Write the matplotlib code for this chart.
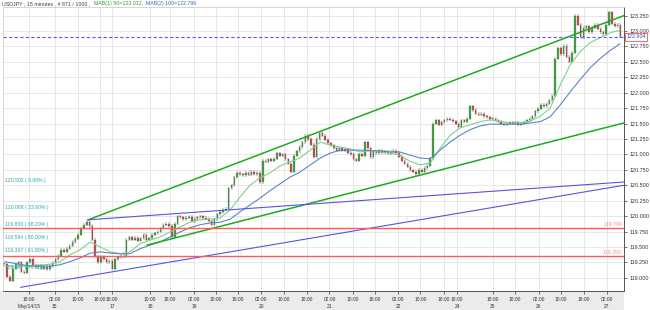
import matplotlib
matplotlib.use("Agg")
import matplotlib.pyplot as plt
from matplotlib.patches import Rectangle
import numpy as np

# hourly closes (one value per 4 bars)
closes = [
    119.22, 119.02, 118.95, 119.15, 119.22, 119.25, 119.10, 119.08, 119.25, 119.30,
    119.20, 119.17, 119.20, 119.15, 119.18, 119.14, 119.19, 119.24, 119.30, 119.36,
    119.45, 119.42, 119.47, 119.52, 119.58, 119.63, 119.70, 119.80, 119.86, 119.91,
    119.84, 119.62, 119.35, 119.25, 119.34, 119.30, 119.25, 119.28, 119.15, 119.30,
    119.33, 119.36, 119.34, 119.62, 119.66, 119.62, 119.65, 119.60, 119.64, 119.70,
    119.62, 119.64, 119.70, 119.72, 119.75, 119.80, 119.86, 119.88, 119.84, 119.66,
    119.88, 120.00, 119.98, 119.95, 119.97, 119.99, 119.92, 119.96, 119.98, 120.00,
    119.97, 119.96, 119.92, 119.86, 119.95, 120.03, 120.06, 120.10, 120.12, 120.45,
    120.50, 120.63, 120.70, 120.68, 120.66, 120.70, 120.67, 120.72, 120.68, 120.70,
    120.55, 120.90, 120.88, 120.92, 120.90, 120.93, 121.02, 120.98, 121.00, 120.92,
    120.85, 120.72, 120.98, 121.05, 121.12, 121.20, 121.30, 121.25, 121.16, 120.95,
    121.25, 121.35, 121.30, 121.24, 121.18, 121.15, 121.10, 121.06, 121.10, 121.06,
    121.08, 121.03, 121.00, 120.92, 120.90, 121.00, 120.98, 121.20, 121.10, 120.95,
    121.05, 121.02, 121.06, 121.03, 121.05, 121.02, 121.04, 121.06, 121.03, 120.96,
    120.90, 120.85, 120.80, 120.74, 120.72, 120.68, 120.75, 120.72, 120.78, 120.82,
    120.94, 121.50, 121.55, 121.48, 121.52, 121.55, 121.58, 121.56, 121.54, 121.50,
    121.45, 121.55, 121.53, 121.58, 121.78, 121.72, 121.66, 121.64, 121.66, 121.62,
    121.60, 121.57, 121.58, 121.55, 121.53, 121.50, 121.48, 121.50, 121.52, 121.50,
    121.52, 121.48, 121.50, 121.52, 121.55, 121.58, 121.62, 121.70, 121.74, 121.80,
    121.78, 121.82, 121.88, 121.95, 122.55, 122.72, 122.62, 122.76, 122.58, 122.50,
    122.65, 123.25, 123.10, 122.90, 123.05, 123.08, 122.98, 123.05, 123.10, 123.04,
    122.98, 122.95, 123.10, 123.30, 123.12, 123.08, 123.10, 122.904,
]
bars_per_candle = 4

# moving averages, sampled at these bar numbers
ma_bars = [3, 38, 66, 80, 94, 108, 123, 137, 151, 165, 179, 193, 207, 221, 235,
           249, 263, 278, 292, 306, 320, 334, 348, 362, 376, 390, 404, 418, 433,
           447, 461, 475, 489, 503, 517, 531, 545, 559, 573, 588, 602, 616, 630,
           644, 658, 672, 686, 700, 714, 728, 743, 757, 771, 785, 799, 813, 827,
           841, 855, 869]
ma50 = [119.19, 119.19, 119.22, 119.26, 119.37, 119.45, 119.58, 119.50, 119.42, 119.39,
        119.42, 119.55, 119.61, 119.66, 119.74, 119.82, 119.90, 119.94, 119.95, 119.97,
        120.10, 120.31, 120.50, 120.62, 120.70, 120.81, 120.88, 120.94, 121.07, 121.20,
        121.15, 121.12, 121.09, 121.04, 121.06, 121.04, 121.02, 120.99, 120.89, 120.83,
        120.86, 121.10, 121.31, 121.43, 121.48, 121.53, 121.56, 121.54, 121.51, 121.51,
        121.54, 121.62, 121.75, 122.12, 122.45, 122.66, 122.81, 122.89, 122.97, 123.01]
ma100 = [119.26, 119.19, 119.19, 119.21, 119.26, 119.32, 119.40, 119.42, 119.40, 119.39,
         119.39, 119.47, 119.53, 119.58, 119.66, 119.74, 119.81, 119.86, 119.89, 119.90,
         119.95, 120.07, 120.18, 120.29, 120.41, 120.52, 120.63, 120.71, 120.83, 120.94,
         121.02, 121.07, 121.07, 121.07, 121.06, 121.06, 121.04, 121.04, 120.99, 120.94,
         120.93, 121.07, 121.20, 121.31, 121.40, 121.46, 121.49, 121.49, 121.49, 121.49,
         121.51, 121.53, 121.61, 121.80, 122.01, 122.21, 122.40, 122.55, 122.68, 122.79]

# trend lines: (bar, price) end points
green_lines = [[(120, 119.94), (875, 123.25)], [(203, 119.53), (875, 121.51)]]
blue_lines = [[(120, 119.94), (875, 120.553)], [(25, 118.846), (875, 120.50)]]
red_levels = [119.799, 119.350]
last_price = 122.904

fib_levels = [120.502, 120.068, 119.800, 119.584, 119.367, 119.097]
fib_pcts = ["0.00", "23.60", "38.20", "50.00", "61.80", "76.40"]

tick_bars = [37, 73, 105, 137, 154, 207, 235, 269, 300, 331, 364, 396, 428, 460,
             493, 524, 557, 588, 621, 640, 690, 721, 755, 786, 819, 851]
tick_times = ["18:00", "02:00", "10:00", "18:00", "18:00", "10:00", "18:00", "02:00",
              "10:00", "18:00", "02:00", "10:00", "18:00", "02:00", "10:00", "18:00",
              "02:00", "10:00", "18:00", "18:00", "18:00", "18:00", "02:00", "10:00",
              "18:00", "02:00"]
tick_days = ["May/14/15", "15", "", "", "17", "18", "", "19", "", "", "20", "", "",
             "21", "", "", "22", "", "", "24", "25", "", "26", "", "", "27"]

header = [("USDJPY , 15 minutes , # 871 / 1000 ,", '#404040'),
          ("MAB(1) 50=123.012,", '#2ea02e'),
          ("MAB(2) 100=122.796", '#3070b0')]

plt.rcParams['font.family'] = ['Liberation Sans', 'DejaVu Sans']

W, H = 650, 310
fig = plt.figure(figsize=(W / 100, H / 100), dpi=100, facecolor='white')
band = Rectangle((0, 0), 624 / W, 19 / H, transform=fig.transFigure,
                 facecolor='#ebebeb', edgecolor='none', zorder=-5)
fig.patches.append(band)
ax = fig.add_axes([3 / W, 19 / H, 621 / W, 284 / H])
ax.set_zorder(2)
ax.set_xlim(0, 875)
ax.set_ylim(118.786, 123.389)

# candles
c = np.array(closes)
o = np.r_[c[0], c[:-1]]
x = np.arange(len(c)) * bars_per_candle + bars_per_candle / 2
hi = np.maximum(o, c) + 0.025
lo = np.minimum(o, c) - 0.025
body = np.maximum(np.abs(c - o), 0.012)
bot = np.minimum(o, c)
up = c >= o
ax.vlines(x, lo, hi, color='#4a4a4a', lw=0.35, zorder=3)
ax.bar(x[up], body[up], bottom=bot[up], width=2.2, color='#46a24a',
       edgecolor='#2d5e2d', linewidth=0.15, zorder=4)
ax.bar(x[~up], body[~up], bottom=bot[~up], width=2.2, color='#cc5050',
       edgecolor='#6a2a2a', linewidth=0.15, zorder=4)

# moving averages
ax.plot(ma_bars, ma50, color='#7fd18a', lw=0.8, zorder=5)
ax.plot(ma_bars, ma100, color='#5b86c4', lw=0.8, zorder=5)

# drawn objects
for (x0, y0), (x1, y1) in green_lines:
    ax.plot([x0, x1], [y0, y1], color='#1faa1f', lw=1.1, zorder=6)
for (x0, y0), (x1, y1) in blue_lines:
    ax.plot([x0, x1], [y0, y1], color='#5555dd', lw=0.8, zorder=6)
for lv in red_levels:
    ax.axhline(lv, color='#ff5a5a', lw=1.0, zorder=6)
    ax.text(0.997, lv + 0.02, f"{lv:.3f}", transform=ax.get_yaxis_transform(),
            ha='right', va='bottom', fontsize=3.8, color='#ff8a8a', zorder=7)
ax.axhline(last_price, color='#5a5aff', lw=0.8, ls=(0, (3, 2)), zorder=6)

for lv, pc in zip(fib_levels, fib_pcts):
    ax.text(0.003, lv + 0.03, f"{lv:.3f} ( {pc}% )", transform=ax.get_yaxis_transform(),
            ha='left', va='bottom', fontsize=3.7, color='#2ea8a8', zorder=7)

# axes styling
yt = np.arange(119.0, 123.26, 0.25)
ax.set_yticks(yt)
ax.yaxis.tick_right()
ax.set_yticklabels([f"{v:.3f}" for v in yt])
ax.set_xticks(tick_bars)
ax.set_xticklabels([t if d == "" else f"{t}\n{d}" for t, d in zip(tick_times, tick_days)])
ax.tick_params(axis='y', labelsize=3.9, colors='#333333', length=2.5, width=0.5, pad=1.5)
ax.tick_params(axis='x', labelsize=3.5, colors='#333333', length=2.5, width=0.5, pad=1.5)
for lab in ax.get_xticklabels():
    lab.set_linespacing(1.6)
    lab.set_verticalalignment('top')
ax.grid(True, color='#e3e3e3', lw=0.6)
ax.set_axisbelow(True)
for side in ['top', 'left']:
    ax.spines[side].set_color('#cfcfcf')
    ax.spines[side].set_linewidth(0.6)
for side in ['right', 'bottom']:
    ax.spines[side].set_color('#555555')
    ax.spines[side].set_linewidth(0.7)

# last price box
ax.text(1.004, last_price, f"{last_price:.3f}", transform=ax.get_yaxis_transform(),
        ha='left', va='center', fontsize=3.9, color='#3050c0', zorder=8, clip_on=False,
        bbox=dict(boxstyle='square,pad=0.2', facecolor='white', edgecolor='#ff5050', lw=0.6))

# header, pieces chained one after another
prev = fig.text(2 / W, 1 - 4 / H, header[0][0], fontsize=3.8, color=header[0][1], va='center')
for txt, col in header[1:]:
    prev = ax.annotate(txt, xy=(1, 0.5), xycoords=prev, xytext=(2.5, 0),
                       textcoords='offset points', va='center', ha='left',
                       fontsize=3.8, color=col, annotation_clip=False)

fig.savefig('out.png', dpi=100, facecolor='white')
